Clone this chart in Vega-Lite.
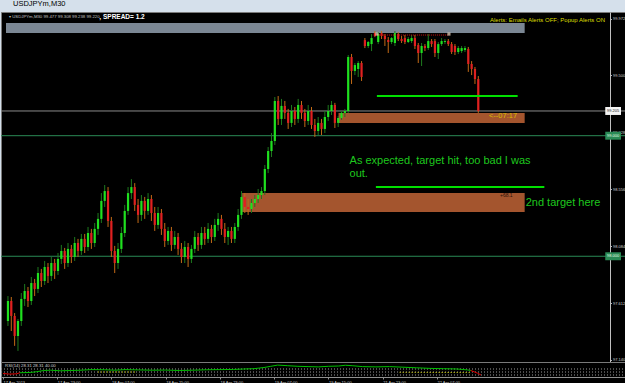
{
  "$schema": "https://vega.github.io/schema/vega-lite/v6.json",
  "background": "#d5e0eb",
  "padding": 0,
  "autosize": {"type": "pad"},
  "title": {"text": "USDJPYm,M30", "anchor": "start", "fontSize": 7.5, "font": "Liberation Sans", "fontWeight": "normal", "color": "#000000", "dx": 12, "offset": 4, "frame": "group"},
  "spacing": 0,
  "bounds": "flush",
  "config": {"view": {"stroke": null}},
  "datasets": {
    "candles": [
      {"i":0,"o":97.463,"h":97.670,"l":97.422,"c":97.629},
      {"i":1,"o":97.629,"h":97.662,"l":97.380,"c":97.505},
      {"i":2,"o":97.505,"h":97.529,"l":97.257,"c":97.339},
      {"i":3,"o":97.339,"h":97.480,"l":97.215,"c":97.463},
      {"i":4,"o":97.463,"h":97.695,"l":97.422,"c":97.646},
      {"i":5,"o":97.646,"h":97.770,"l":97.588,"c":97.712},
      {"i":6,"o":97.712,"h":97.745,"l":97.579,"c":97.629},
      {"i":7,"o":97.629,"h":97.828,"l":97.596,"c":97.778},
      {"i":8,"o":97.778,"h":97.812,"l":97.670,"c":97.729},
      {"i":9,"o":97.729,"h":97.911,"l":97.695,"c":97.861},
      {"i":10,"o":97.861,"h":97.895,"l":97.745,"c":97.795},
      {"i":11,"o":97.795,"h":97.961,"l":97.762,"c":97.911},
      {"i":12,"o":97.911,"h":97.944,"l":97.778,"c":97.837},
      {"i":13,"o":97.837,"h":97.994,"l":97.795,"c":97.944},
      {"i":14,"o":97.944,"h":97.978,"l":97.812,"c":97.878},
      {"i":15,"o":97.878,"h":98.027,"l":97.845,"c":97.978},
      {"i":16,"o":97.978,"h":98.094,"l":97.936,"c":98.044},
      {"i":17,"o":98.044,"h":98.069,"l":97.895,"c":97.944},
      {"i":18,"o":97.944,"h":98.110,"l":97.911,"c":98.061},
      {"i":19,"o":98.061,"h":98.094,"l":97.944,"c":97.994},
      {"i":20,"o":97.994,"h":98.160,"l":97.961,"c":98.110},
      {"i":21,"o":98.110,"h":98.144,"l":97.994,"c":98.044},
      {"i":22,"o":98.044,"h":98.185,"l":98.011,"c":98.144},
      {"i":23,"o":98.144,"h":98.185,"l":98.027,"c":98.077},
      {"i":24,"o":98.077,"h":98.243,"l":98.044,"c":98.193},
      {"i":25,"o":98.193,"h":98.227,"l":98.061,"c":98.110},
      {"i":26,"o":98.110,"h":98.276,"l":98.077,"c":98.227},
      {"i":27,"o":98.227,"h":98.359,"l":98.177,"c":98.310},
      {"i":28,"o":98.310,"h":98.524,"l":98.276,"c":98.459},
      {"i":29,"o":98.459,"h":98.591,"l":98.409,"c":98.541},
      {"i":30,"o":98.541,"h":98.574,"l":98.243,"c":98.293},
      {"i":31,"o":98.293,"h":98.326,"l":97.994,"c":98.044},
      {"i":32,"o":98.044,"h":98.086,"l":97.861,"c":97.944},
      {"i":33,"o":97.944,"h":98.110,"l":97.895,"c":98.061},
      {"i":34,"o":98.061,"h":98.243,"l":98.027,"c":98.193},
      {"i":35,"o":98.193,"h":98.426,"l":98.160,"c":98.376},
      {"i":36,"o":98.376,"h":98.574,"l":98.343,"c":98.524},
      {"i":37,"o":98.524,"h":98.640,"l":98.475,"c":98.574},
      {"i":38,"o":98.574,"h":98.607,"l":98.376,"c":98.426},
      {"i":39,"o":98.426,"h":98.475,"l":98.276,"c":98.343},
      {"i":40,"o":98.343,"h":98.508,"l":98.293,"c":98.459},
      {"i":41,"o":98.459,"h":98.492,"l":98.310,"c":98.376},
      {"i":42,"o":98.376,"h":98.524,"l":98.343,"c":98.475},
      {"i":43,"o":98.475,"h":98.508,"l":98.293,"c":98.359},
      {"i":44,"o":98.359,"h":98.409,"l":98.210,"c":98.260},
      {"i":45,"o":98.260,"h":98.409,"l":98.227,"c":98.359},
      {"i":46,"o":98.359,"h":98.392,"l":98.177,"c":98.227},
      {"i":47,"o":98.227,"h":98.276,"l":98.077,"c":98.127},
      {"i":48,"o":98.127,"h":98.243,"l":98.094,"c":98.210},
      {"i":49,"o":98.210,"h":98.243,"l":98.044,"c":98.094},
      {"i":50,"o":98.094,"h":98.210,"l":98.061,"c":98.160},
      {"i":51,"o":98.160,"h":98.193,"l":98.011,"c":98.061},
      {"i":52,"o":98.061,"h":98.110,"l":97.944,"c":97.994},
      {"i":53,"o":97.994,"h":98.127,"l":97.944,"c":98.077},
      {"i":54,"o":98.077,"h":98.110,"l":97.911,"c":97.978},
      {"i":55,"o":97.978,"h":98.094,"l":97.944,"c":98.061},
      {"i":56,"o":98.061,"h":98.210,"l":98.027,"c":98.160},
      {"i":57,"o":98.160,"h":98.193,"l":98.044,"c":98.094},
      {"i":58,"o":98.094,"h":98.243,"l":98.061,"c":98.193},
      {"i":59,"o":98.193,"h":98.243,"l":98.094,"c":98.144},
      {"i":60,"o":98.144,"h":98.276,"l":98.110,"c":98.227},
      {"i":61,"o":98.227,"h":98.260,"l":98.110,"c":98.160},
      {"i":62,"o":98.160,"h":98.310,"l":98.127,"c":98.260},
      {"i":63,"o":98.260,"h":98.359,"l":98.210,"c":98.310},
      {"i":64,"o":98.310,"h":98.343,"l":98.177,"c":98.227},
      {"i":65,"o":98.227,"h":98.276,"l":98.110,"c":98.160},
      {"i":66,"o":98.160,"h":98.243,"l":98.094,"c":98.210},
      {"i":67,"o":98.210,"h":98.243,"l":98.110,"c":98.144},
      {"i":68,"o":98.144,"h":98.276,"l":98.110,"c":98.243},
      {"i":69,"o":98.243,"h":98.392,"l":98.210,"c":98.343},
      {"i":70,"o":98.343,"h":98.541,"l":98.310,"c":98.492},
      {"i":71,"o":98.492,"h":98.524,"l":98.359,"c":98.409},
      {"i":72,"o":98.409,"h":98.475,"l":98.343,"c":98.392},
      {"i":73,"o":98.392,"h":98.475,"l":98.359,"c":98.442},
      {"i":74,"o":98.442,"h":98.508,"l":98.409,"c":98.475},
      {"i":75,"o":98.475,"h":98.558,"l":98.442,"c":98.508},
      {"i":76,"o":98.508,"h":98.574,"l":98.475,"c":98.541},
      {"i":77,"o":98.541,"h":98.757,"l":98.508,"c":98.724},
      {"i":78,"o":98.724,"h":98.906,"l":98.690,"c":98.873},
      {"i":79,"o":98.873,"h":99.022,"l":98.823,"c":98.956},
      {"i":80,"o":98.956,"h":99.321,"l":98.923,"c":99.288},
      {"i":81,"o":99.288,"h":99.329,"l":99.089,"c":99.139},
      {"i":82,"o":99.139,"h":99.305,"l":99.089,"c":99.247},
      {"i":83,"o":99.247,"h":99.288,"l":99.139,"c":99.189},
      {"i":84,"o":99.189,"h":99.222,"l":99.056,"c":99.106},
      {"i":85,"o":99.106,"h":99.255,"l":99.072,"c":99.205},
      {"i":86,"o":99.205,"h":99.238,"l":99.089,"c":99.139},
      {"i":87,"o":99.139,"h":99.305,"l":99.106,"c":99.255},
      {"i":88,"o":99.255,"h":99.288,"l":99.139,"c":99.189},
      {"i":89,"o":99.189,"h":99.222,"l":99.072,"c":99.122},
      {"i":90,"o":99.122,"h":99.255,"l":99.089,"c":99.205},
      {"i":91,"o":99.205,"h":99.238,"l":99.056,"c":99.089},
      {"i":92,"o":99.089,"h":99.139,"l":98.990,"c":99.039},
      {"i":93,"o":99.039,"h":99.155,"l":99.006,"c":99.106},
      {"i":94,"o":99.106,"h":99.139,"l":99.006,"c":99.056},
      {"i":95,"o":99.056,"h":99.205,"l":99.022,"c":99.155},
      {"i":96,"o":99.155,"h":99.255,"l":99.122,"c":99.205},
      {"i":97,"o":99.205,"h":99.288,"l":99.172,"c":99.255},
      {"i":98,"o":99.255,"h":99.272,"l":99.064,"c":99.106},
      {"i":99,"o":99.106,"h":99.164,"l":99.072,"c":99.147},
      {"i":100,"o":99.147,"h":99.205,"l":99.131,"c":99.189},
      {"i":101,"o":99.189,"h":99.222,"l":99.155,"c":99.205},
      {"i":102,"o":99.205,"h":99.669,"l":99.189,"c":99.653},
      {"i":103,"o":99.653,"h":99.678,"l":99.429,"c":99.537},
      {"i":104,"o":99.537,"h":99.603,"l":99.503,"c":99.586},
      {"i":105,"o":99.553,"h":99.619,"l":99.487,"c":99.603},
      {"i":106,"o":99.603,"h":99.619,"l":99.454,"c":99.487},
      {"i":107,"o":99.793,"h":99.810,"l":99.727,"c":99.744},
      {"i":108,"o":99.744,"h":99.785,"l":99.727,"c":99.777},
      {"i":109,"o":99.760,"h":99.843,"l":99.702,"c":99.810},
      {"i":110,"o":99.851,"h":99.868,"l":99.818,"c":99.827},
      {"i":111,"o":99.777,"h":99.860,"l":99.760,"c":99.843},
      {"i":112,"o":99.851,"h":99.868,"l":99.802,"c":99.827},
      {"i":113,"o":99.827,"h":99.843,"l":99.744,"c":99.802},
      {"i":114,"o":99.793,"h":99.818,"l":99.686,"c":99.777},
      {"i":115,"o":99.777,"h":99.818,"l":99.760,"c":99.810},
      {"i":116,"o":99.769,"h":99.868,"l":99.744,"c":99.851},
      {"i":117,"o":99.843,"h":99.860,"l":99.785,"c":99.802},
      {"i":118,"o":99.802,"h":99.827,"l":99.769,"c":99.785},
      {"i":119,"o":99.810,"h":99.835,"l":99.760,"c":99.777},
      {"i":120,"o":99.777,"h":99.818,"l":99.769,"c":99.802},
      {"i":121,"o":99.785,"h":99.835,"l":99.769,"c":99.810},
      {"i":122,"o":99.810,"h":99.835,"l":99.719,"c":99.744},
      {"i":123,"o":99.752,"h":99.769,"l":99.603,"c":99.686},
      {"i":124,"o":99.686,"h":99.769,"l":99.578,"c":99.744},
      {"i":125,"o":99.744,"h":99.760,"l":99.702,"c":99.727},
      {"i":126,"o":99.727,"h":99.843,"l":99.711,"c":99.785},
      {"i":127,"o":99.785,"h":99.802,"l":99.736,"c":99.760},
      {"i":128,"o":99.785,"h":99.802,"l":99.653,"c":99.686},
      {"i":129,"o":99.686,"h":99.777,"l":99.636,"c":99.760},
      {"i":130,"o":99.760,"h":99.810,"l":99.744,"c":99.785},
      {"i":131,"o":99.777,"h":99.802,"l":99.760,"c":99.785},
      {"i":132,"o":99.785,"h":99.802,"l":99.744,"c":99.760},
      {"i":133,"o":99.760,"h":99.777,"l":99.678,"c":99.694},
      {"i":134,"o":99.744,"h":99.760,"l":99.669,"c":99.694},
      {"i":135,"o":99.694,"h":99.744,"l":99.678,"c":99.727},
      {"i":136,"o":99.702,"h":99.744,"l":99.686,"c":99.727},
      {"i":137,"o":99.711,"h":99.744,"l":99.694,"c":99.727},
      {"i":138,"o":99.719,"h":99.736,"l":99.529,"c":99.595},
      {"i":139,"o":99.595,"h":99.619,"l":99.503,"c":99.553},
      {"i":140,"o":99.553,"h":99.570,"l":99.429,"c":99.470},
      {"i":141,"o":99.470,"h":99.495,"l":99.189,"c":99.205}
    ],
    "boxes": [
      {"kind":"panel","from":-0.59,"to":154.9,"top":99.935,"bottom":99.852},
      {"kind":"zone","from":70.2,"to":154.9,"top":98.524,"bottom":98.367},
      {"kind":"zone","from":99.1,"to":154.9,"top":99.188,"bottom":99.105}
    ],
    "levels": [
      {"name":"bid","p":99.205,"top":99.238,"bottom":99.172,"label":"99.205"},
      {"name":"round","p":99.000,"top":99.033,"bottom":98.967,"label":"99.000"},
      {"name":"round","p":98.000,"top":98.033,"bottom":97.967,"label":"98.000"}
    ],
    "rsi": [
      {"i":0,"v":40,"s":"r1"},{"i":2,"v":36,"s":"r1"},{"i":4,"v":38,"s":"r1"},{"i":5,"v":45,"s":"r1"},
      {"i":5,"v":45,"s":"g"},{"i":8,"v":47,"s":"g"},{"i":10,"v":52,"s":"g"},{"i":12,"v":60,"s":"g"},{"i":14,"v":62,"s":"g"},{"i":17,"v":58,"s":"g"},{"i":20,"v":60,"s":"g"},{"i":23,"v":62,"s":"g"},{"i":26,"v":66,"s":"g"},{"i":30,"v":65,"s":"g"},{"i":33,"v":62,"s":"g"},{"i":36,"v":66,"s":"g"},{"i":40,"v":64,"s":"g"},{"i":44,"v":62,"s":"g"},{"i":48,"v":63,"s":"g"},{"i":52,"v":60,"s":"g"},{"i":56,"v":62,"s":"g"},{"i":60,"v":65,"s":"g"},{"i":64,"v":66,"s":"g"},{"i":68,"v":67,"s":"g"},{"i":71,"v":70,"s":"g"},{"i":74,"v":72,"s":"g"},{"i":77,"v":80,"s":"g"},{"i":79,"v":88,"s":"g"},{"i":81,"v":96,"s":"g"},{"i":84,"v":92,"s":"g"},{"i":87,"v":88,"s":"g"},{"i":90,"v":86,"s":"g"},{"i":93,"v":84,"s":"g"},{"i":96,"v":88,"s":"g"},{"i":99,"v":90,"s":"g"},{"i":101,"v":95,"s":"g"},{"i":103,"v":92,"s":"g"},{"i":106,"v":86,"s":"g"},{"i":110,"v":84,"s":"g"},{"i":114,"v":86,"s":"g"},{"i":118,"v":82,"s":"g"},{"i":122,"v":78,"s":"g"},{"i":126,"v":74,"s":"g"},{"i":130,"v":72,"s":"g"},{"i":134,"v":70,"s":"g"},{"i":137,"v":64,"s":"g"},{"i":138,"v":60,"s":"g"},
      {"i":138,"v":60,"s":"r2"},{"i":140,"v":42,"s":"r2"},{"i":141,"v":30,"s":"r2"}
    ],
    "yel": [
      {"i":28,"v":50,"seg":"a"},{"i":39,"v":50,"seg":"a"},
      {"i":117,"v":48,"seg":"b"},{"i":138,"v":46,"seg":"b"}
    ]
  },
  "vconcat": [
    {
      "width": 625,
      "height": 350,
      "view": {"fill": "#000000", "stroke": "#7a7a7a"},
      "layer": [
        {
          "data": {"name": "boxes"},
          "mark": {"type": "rect"},
          "encoding": {
            "x": {"field": "from", "type": "quantitative", "scale": {"domain": [-0.59, 183.78], "nice": false, "zero": false}, "axis": null},
            "x2": {"field": "to"},
            "y": {"field": "top", "type": "quantitative", "scale": {"domain": [97.123, 100.026], "nice": false, "zero": false},
              "axis": {"orient": "right", "offset": -16, "values": [97.140,97.258,97.376,97.494,97.612,97.730,97.848,97.966,98.084,98.202,98.320,98.438,98.556,98.674,98.792,98.910,99.028,99.146,99.264,99.382,99.500,99.618,99.736,99.854,99.972], "format": ".3f", "labelFontSize": 4, "labelFont": "Liberation Sans", "labelColor": "#d0d0d0", "labelPadding": 1, "labelBaseline": "middle", "labelFlush": false, "labelOverlap": false, "labelBound": false, "tickSize": 1.5, "tickColor": "#b0b0b0", "domainColor": "#c0c0c0", "title": null, "grid": false}},
            "y2": {"field": "bottom"},
            "color": {"condition": {"test": "datum.kind == 'panel'", "value": "#7b8794"}, "value": "#a4552e"}
          }
        },
        {
          "data": {"name": "levels"},
          "mark": {"type": "rule", "strokeWidth": 1},
          "encoding": {
            "y": {"field": "p", "type": "quantitative", "scale": {"domain": [97.123, 100.026], "nice": false, "zero": false}, "title": null},
            "color": {"condition": {"test": "datum.name == 'bid'", "value": "#8a8a8a"}, "value": "#2a8a55"}
          }
        },
        {
          "data": {"name": "candles"},
          "mark": {"type": "rule", "strokeWidth": 1},
          "encoding": {
            "x": {"field": "i", "type": "quantitative", "scale": {"domain": [-0.59, 183.78], "nice": false, "zero": false}, "axis": null},
            "y": {"field": "l", "type": "quantitative", "scale": {"domain": [97.123, 100.026], "nice": false, "zero": false}, "title": null},
            "y2": {"field": "h"},
            "color": {"condition": {"test": "datum.c >= datum.o", "value": "#1e7a1e"}, "value": "#c46a16"}
          }
        },
        {
          "data": {"name": "candles"},
          "mark": {"type": "bar", "size": 2.2},
          "encoding": {
            "x": {"field": "i", "type": "quantitative", "scale": {"domain": [-0.59, 183.78], "nice": false, "zero": false}, "axis": null},
            "y": {"field": "o", "type": "quantitative", "scale": {"domain": [97.123, 100.026], "nice": false, "zero": false}, "title": null},
            "y2": {"field": "c"},
            "color": {"condition": {"test": "datum.c >= datum.o", "value": "#1fe01f"}, "value": "#e02020"}
          }
        },
        {
          "data": {"values": [{"from": 110.6, "to": 152.8, "p": 99.329}, {"from": 110.3, "to": 160.8, "p": 98.574}]},
          "mark": {"type": "rule", "strokeWidth": 2, "color": "#00e000"},
          "encoding": {
            "x": {"field": "from", "type": "quantitative", "scale": {"domain": [-0.59, 183.78], "nice": false, "zero": false}, "axis": null},
            "x2": {"field": "to"},
            "y": {"field": "p", "type": "quantitative", "scale": {"domain": [97.123, 100.026], "nice": false, "zero": false}, "title": null}
          }
        },
        {
          "data": {"values": [{"from": 110.6, "to": 132.2, "p": 99.835}]},
          "mark": {"type": "rule", "strokeWidth": 1, "color": "#d01010", "strokeDash": [1, 1]},
          "encoding": {
            "x": {"field": "from", "type": "quantitative", "scale": {"domain": [-0.59, 183.78], "nice": false, "zero": false}, "axis": null},
            "x2": {"field": "to"},
            "y": {"field": "p", "type": "quantitative", "scale": {"domain": [97.123, 100.026], "nice": false, "zero": false}, "title": null}
          }
        },
        {
          "data": {"values": [{"i": 110.6, "p": 99.843}, {"i": 132.2, "p": 99.843}]},
          "mark": {"type": "point", "shape": "square", "filled": true, "size": 10, "color": "#f0d8c0"},
          "encoding": {
            "x": {"field": "i", "type": "quantitative", "scale": {"domain": [-0.59, 183.78], "nice": false, "zero": false}, "axis": null},
            "y": {"field": "p", "type": "quantitative", "scale": {"domain": [97.123, 100.026], "nice": false, "zero": false}, "title": null}
          }
        },
        {
          "data": {"values": [
            {"i": 102.4, "p": 98.790, "label": "As expected, target hit, too bad I was"},
            {"i": 102.4, "p": 98.682, "label": "out."},
            {"i": 155.2, "p": 98.442, "label": "2nd target here"}
          ]},
          "mark": {"type": "text", "align": "left", "baseline": "middle", "font": "Liberation Sans", "fontSize": 11, "color": "#1ec81e"},
          "encoding": {
            "x": {"field": "i", "type": "quantitative", "scale": {"domain": [-0.59, 183.78], "nice": false, "zero": false}, "axis": null},
            "y": {"field": "p", "type": "quantitative", "scale": {"domain": [97.123, 100.026], "nice": false, "zero": false}, "title": null},
            "text": {"field": "label"}
          }
        },
        {
          "data": {"values": [{"i": 144.2, "p": 99.164, "label": "<--07:17"}]},
          "mark": {"type": "text", "align": "left", "baseline": "middle", "font": "Liberation Sans", "fontSize": 7.5, "color": "#d8bc00"},
          "encoding": {
            "x": {"field": "i", "type": "quantitative", "scale": {"domain": [-0.59, 183.78], "nice": false, "zero": false}, "axis": null},
            "y": {"field": "p", "type": "quantitative", "scale": {"domain": [97.123, 100.026], "nice": false, "zero": false}, "title": null},
            "text": {"field": "label"}
          }
        },
        {
          "data": {"values": [{"i": 147.5, "p": 98.508, "label": "+68.1"}]},
          "mark": {"type": "text", "align": "left", "baseline": "middle", "font": "Liberation Sans", "fontSize": 5, "color": "#2a1208"},
          "encoding": {
            "x": {"field": "i", "type": "quantitative", "scale": {"domain": [-0.59, 183.78], "nice": false, "zero": false}, "axis": null},
            "y": {"field": "p", "type": "quantitative", "scale": {"domain": [97.123, 100.026], "nice": false, "zero": false}, "title": null},
            "text": {"field": "label"}
          }
        },
        {
          "data": {"values": [{"i": 0.3, "p": 99.985, "label": "▾ USDJPYm,M30  99.477 99.308 99.238 99.220"}]},
          "mark": {"type": "text", "align": "left", "baseline": "middle", "font": "Liberation Sans", "fontSize": 4.3, "color": "#c0c0c0"},
          "encoding": {
            "x": {"field": "i", "type": "quantitative", "scale": {"domain": [-0.59, 183.78], "nice": false, "zero": false}, "axis": null},
            "y": {"field": "p", "type": "quantitative", "scale": {"domain": [97.123, 100.026], "nice": false, "zero": false}, "title": null},
            "text": {"field": "label"}
          }
        },
        {
          "data": {"values": [{"i": 27.4, "p": 99.985, "label": ", SPREAD= 1.2"}]},
          "mark": {"type": "text", "align": "left", "baseline": "middle", "font": "Liberation Sans", "fontSize": 6.5, "fontWeight": "bold", "color": "#ffffff"},
          "encoding": {
            "x": {"field": "i", "type": "quantitative", "scale": {"domain": [-0.59, 183.78], "nice": false, "zero": false}, "axis": null},
            "y": {"field": "p", "type": "quantitative", "scale": {"domain": [97.123, 100.026], "nice": false, "zero": false}, "title": null},
            "text": {"field": "label"}
          }
        },
        {
          "data": {"values": [{"i": 144.5, "p": 99.960, "label": "Alerts:  Emails Alerts OFF;  Popup Alerts ON"}]},
          "mark": {"type": "text", "align": "left", "baseline": "middle", "font": "Liberation Sans", "fontSize": 6, "color": "#dede00"},
          "encoding": {
            "x": {"field": "i", "type": "quantitative", "scale": {"domain": [-0.59, 183.78], "nice": false, "zero": false}, "axis": null},
            "y": {"field": "p", "type": "quantitative", "scale": {"domain": [97.123, 100.026], "nice": false, "zero": false}, "title": null},
            "text": {"field": "label"}
          }
        },
        {
          "data": {"name": "levels"},
          "mark": {"type": "rect"},
          "encoding": {
            "x": {"datum": 179.06, "type": "quantitative", "scale": {"domain": [-0.59, 183.78], "nice": false, "zero": false}, "axis": null},
            "x2": {"datum": 183.78},
            "y": {"field": "top", "type": "quantitative", "scale": {"domain": [97.123, 100.026], "nice": false, "zero": false}, "title": null},
            "y2": {"field": "bottom"},
            "color": {"condition": {"test": "datum.name == 'bid'", "value": "#f4f4f4"}, "value": "#2a8a55"}
          }
        },
        {
          "data": {"name": "levels"},
          "mark": {"type": "text", "align": "left", "baseline": "middle", "font": "Liberation Sans", "fontSize": 4},
          "encoding": {
            "x": {"datum": 179.6, "type": "quantitative", "scale": {"domain": [-0.59, 183.78], "nice": false, "zero": false}, "axis": null},
            "y": {"field": "p", "type": "quantitative", "scale": {"domain": [97.123, 100.026], "nice": false, "zero": false}, "title": null},
            "text": {"field": "label"},
            "color": {"condition": {"test": "datum.name == 'bid'", "value": "#202020"}, "value": "#e8ffe8"}
          }
        }
      ]
    },
    {
      "width": 625,
      "height": 22,
      "view": {"fill": "#000000", "stroke": "#7a7a7a"},
      "layer": [
        {
          "data": {"values": [{"v": 70}, {"v": 50}, {"v": 30}]},
          "mark": {"type": "rule", "strokeWidth": 1, "color": "#9a9a9a", "strokeDash": [1, 2]},
          "encoding": {
            "y": {"field": "v", "type": "quantitative", "scale": {"domain": [-30, 116.67], "nice": false, "zero": false}, "axis": null}
          }
        },
        {
          "data": {"name": "rsi"},
          "mark": {"type": "line", "strokeWidth": 1},
          "encoding": {
            "x": {"field": "i", "type": "quantitative", "scale": {"domain": [-0.59, 183.78], "nice": false, "zero": false},
              "axis": {"orient": "bottom", "offset": -7, "values": [0,8,16,24,32,40,48,56,64,72,80,88,96,104,112,120,128,136], "labelExpr": "['17 Apr 2013','17 Apr 19:00','17 Apr 23:00','18 Apr 03:00','18 Apr 07:00','18 Apr 11:00','18 Apr 15:00','18 Apr 19:00','18 Apr 23:00','19 Apr 03:00','19 Apr 07:00','19 Apr 11:00','19 Apr 15:00','19 Apr 19:00','21 Apr 23:00','22 Apr 03:00','22 Apr 07:00','22 Apr 11:00'][datum.value/8]", "labelFontSize": 4, "labelFont": "Liberation Sans", "labelColor": "#d0d0d0", "labelAlign": "left", "labelBaseline": "top", "labelPadding": 1, "labelFlush": false, "labelOverlap": false, "labelBound": false, "tickSize": 2, "tickColor": "#909090", "domainColor": "#909090", "title": null, "grid": false}},
            "y": {"field": "v", "type": "quantitative", "scale": {"domain": [-30, 116.67], "nice": false, "zero": false}, "axis": null},
            "detail": {"field": "s"},
            "color": {"condition": {"test": "datum.s == 'g'", "value": "#00c000"}, "value": "#e00000"}
          }
        },
        {
          "data": {"name": "yel"},
          "mark": {"type": "line", "strokeWidth": 1, "color": "#e0e000", "strokeDash": [1, 2]},
          "encoding": {
            "x": {"field": "i", "type": "quantitative", "scale": {"domain": [-0.59, 183.78], "nice": false, "zero": false}, "title": null},
            "y": {"field": "v", "type": "quantitative", "scale": {"domain": [-30, 116.67], "nice": false, "zero": false}, "axis": null},
            "detail": {"field": "seg"}
          }
        },
        {
          "data": {"values": [{"i": 0.6, "v": 92, "label": "RSI(14) 28.31 28.31 40.00"}]},
          "mark": {"type": "text", "align": "left", "baseline": "middle", "font": "Liberation Sans", "fontSize": 4.3, "color": "#d0d0d0"},
          "encoding": {
            "x": {"field": "i", "type": "quantitative", "scale": {"domain": [-0.59, 183.78], "nice": false, "zero": false}, "title": null},
            "y": {"field": "v", "type": "quantitative", "scale": {"domain": [-30, 116.67], "nice": false, "zero": false}, "axis": null},
            "text": {"field": "label"}
          }
        }
      ]
    }
  ]
}
